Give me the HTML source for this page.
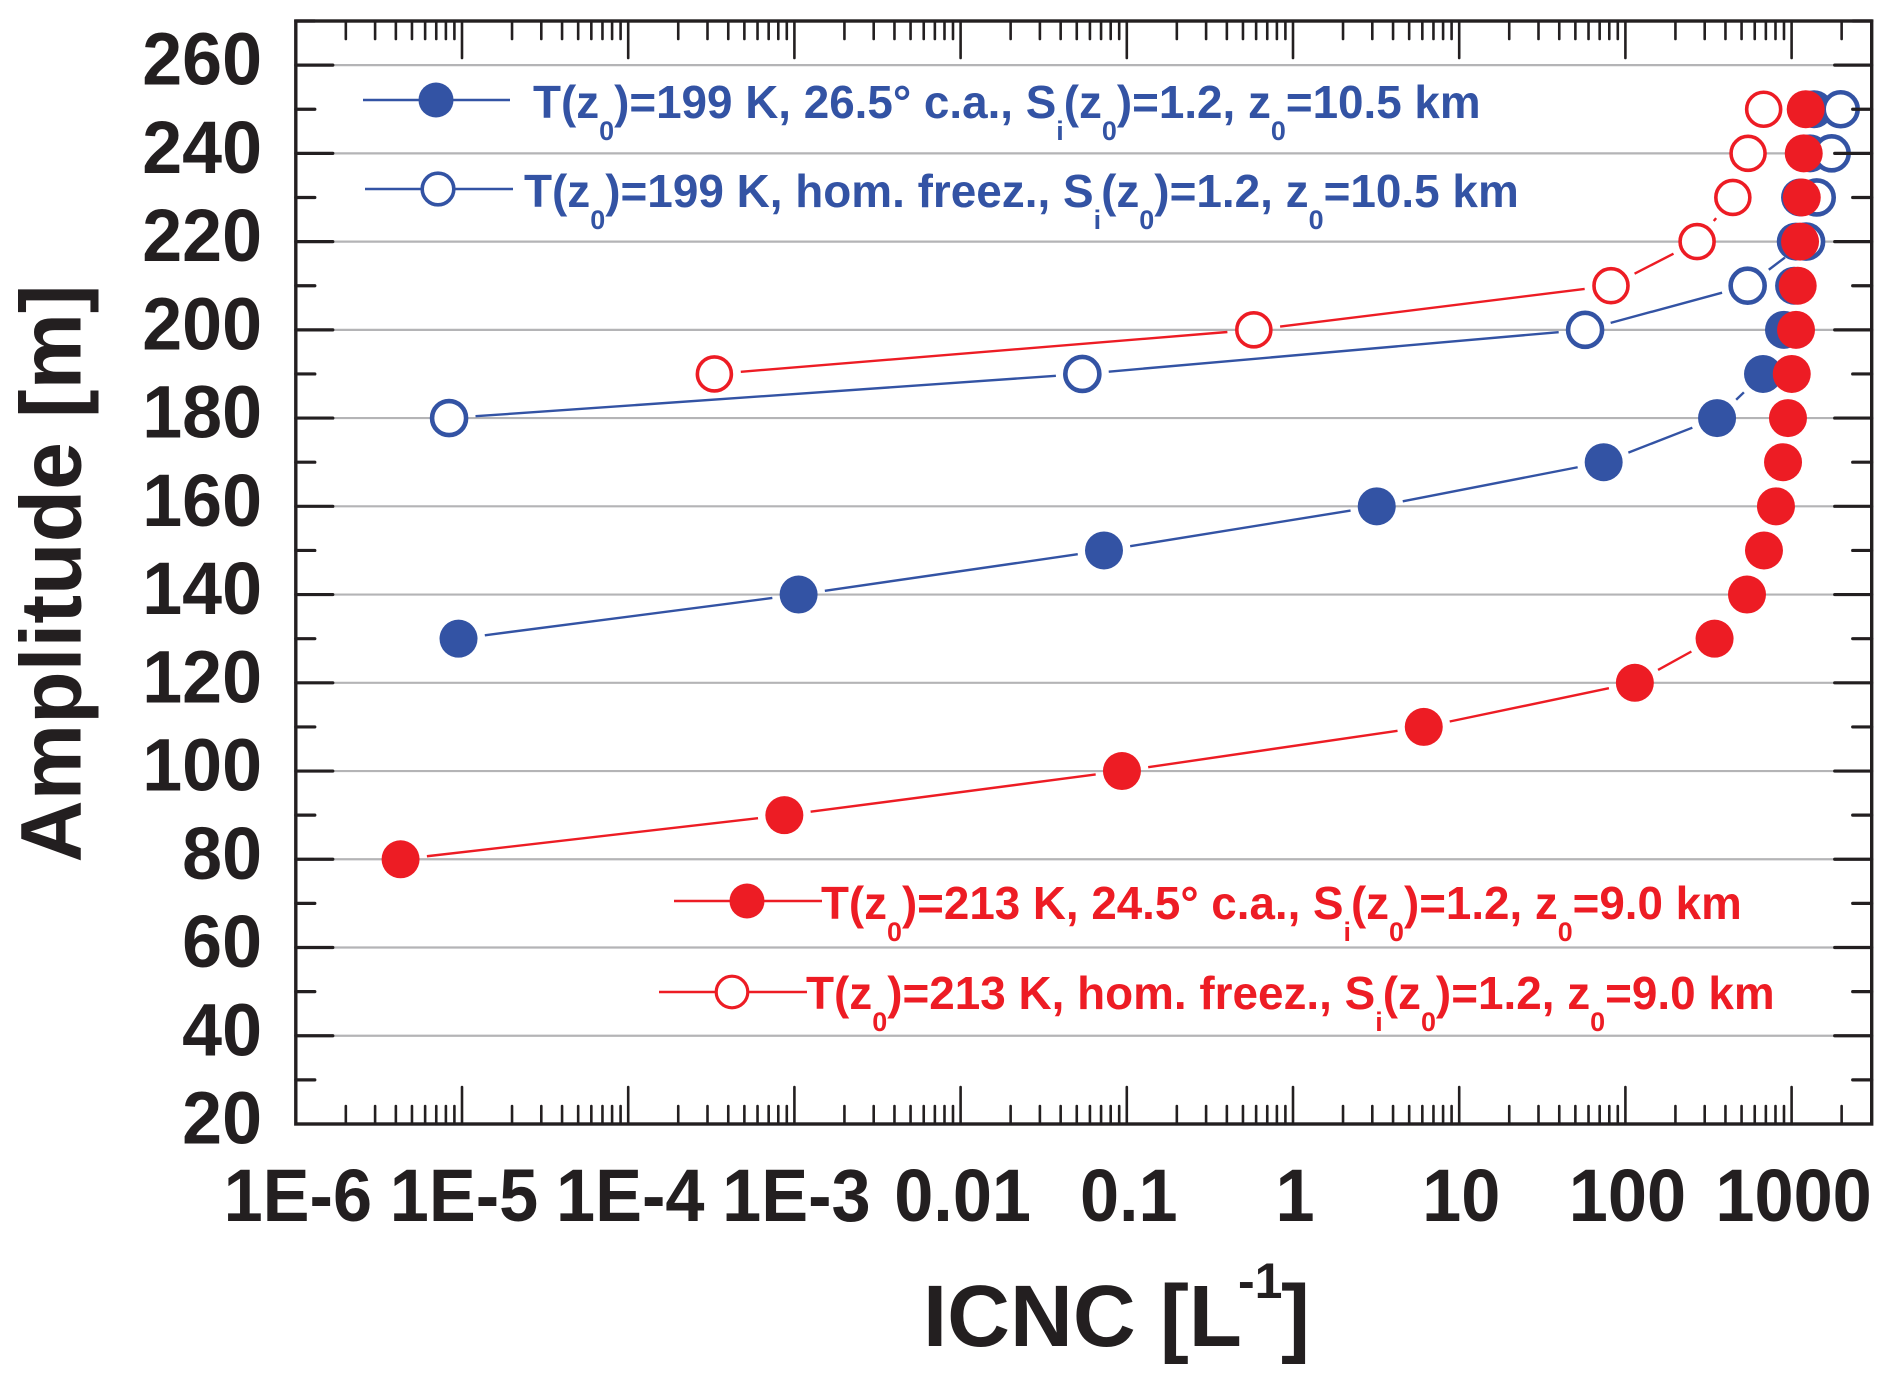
<!DOCTYPE html>
<html lang="en">
<head>
<meta charset="utf-8">
<title>ICNC vs Amplitude</title>
<style>
html,body{margin:0;padding:0;background:#fff;}
svg{display:block;}
text{font-family:"Liberation Sans",sans-serif;font-weight:bold;}
.blue{fill:#3353a4;}
.red{fill:#ed1c24;}
.dark{fill:#231f20;}
</style>
</head>
<body>
<svg id="chart" xmlns="http://www.w3.org/2000/svg" width="1892" height="1383" viewBox="0 0 1892 1383">
  <rect x="0" y="0" width="1892" height="1383" fill="#ffffff"/>
  <g id="grid"></g>
  <g id="series"></g>
  <g id="axes"></g>
  <g id="labels"></g>

  <text class="dark" transform="translate(80.5,862.5) rotate(-90)" font-size="86">Amplitude [m]</text>
  <g>
    <text class="dark" x="923" y="1346" font-size="87">ICNC [L</text>
    <text class="dark" x="1238" y="1298" font-size="50">-1</text>
    <text class="dark" x="1281" y="1346" font-size="87">]</text>
  </g>

  <g>
    <g>
      <line x1="363" y1="100" x2="510" y2="100" stroke="#3353a4" stroke-width="2.4"/>
      <circle cx="436" cy="100" r="17.5" fill="#3353a4"/>
      <text class="blue legend-text" font-size="46" data-x="533" data-y="118" data-w="948">T(z<tspan font-size="27" dy="22">0</tspan><tspan dy="-22">)=199 K, 26.5° c.a., S</tspan><tspan font-size="27" dy="22">i</tspan><tspan dy="-22">(z</tspan><tspan font-size="27" dy="22">0</tspan><tspan dy="-22">)=1.2, z</tspan><tspan font-size="27" dy="22">0</tspan><tspan dy="-22">=10.5 km</tspan></text>
    </g>
    <g>
      <line x1="365" y1="189" x2="513" y2="189" stroke="#3353a4" stroke-width="2.4"/>
      <circle cx="438" cy="189" r="15.8" fill="#ffffff" stroke="#3353a4" stroke-width="3.6"/>
      <text class="blue legend-text" font-size="46" data-x="524" data-y="207" data-w="995">T(z<tspan font-size="27" dy="22">0</tspan><tspan dy="-22">)=199 K, hom. freez., S</tspan><tspan font-size="27" dy="22">i</tspan><tspan dy="-22">(z</tspan><tspan font-size="27" dy="22">0</tspan><tspan dy="-22">)=1.2, z</tspan><tspan font-size="27" dy="22">0</tspan><tspan dy="-22">=10.5 km</tspan></text>
    </g>
    <g>
      <line x1="674" y1="901" x2="822" y2="901" stroke="#ed1c24" stroke-width="2.4"/>
      <circle cx="747" cy="901" r="17.5" fill="#ed1c24"/>
      <text class="red legend-text" font-size="46" data-x="821" data-y="919" data-w="921">T(z<tspan font-size="27" dy="22">0</tspan><tspan dy="-22">)=213 K, 24.5° c.a., S</tspan><tspan font-size="27" dy="22">i</tspan><tspan dy="-22">(z</tspan><tspan font-size="27" dy="22">0</tspan><tspan dy="-22">)=1.2, z</tspan><tspan font-size="27" dy="22">0</tspan><tspan dy="-22">=9.0 km</tspan></text>
    </g>
    <g>
      <line x1="659" y1="992" x2="807" y2="992" stroke="#ed1c24" stroke-width="2.4"/>
      <circle cx="732" cy="992" r="15.8" fill="#ffffff" stroke="#ed1c24" stroke-width="3.2"/>
      <text class="red legend-text" font-size="46" data-x="806" data-y="1009" data-w="969">T(z<tspan font-size="27" dy="22">0</tspan><tspan dy="-22">)=213 K, hom. freez., S</tspan><tspan font-size="27" dy="22">i</tspan><tspan dy="-22">(z</tspan><tspan font-size="27" dy="22">0</tspan><tspan dy="-22">)=1.2, z</tspan><tspan font-size="27" dy="22">0</tspan><tspan dy="-22">=9.0 km</tspan></text>
    </g>
  </g>
</svg>
<script>
// ---- chart data ----
const yTickValues = [20,40,60,80,100,120,140,160,180,200,220,240,260];
const yTickLabels = ['20','40','60','80','100','120','140','160','180','200','220','240','260'];
const yGridValues = [40,60,80,100,120,140,160,180,200,220,240,260];
const xTickValues = [1e-6,1e-5,1e-4,1e-3,0.01,0.1,1,10,100,1000];
const xTickLabels = ['1E-6','1E-5','1E-4','1E-3','0.01','0.1','1','10','100','1000'];

const amplitudeBlueFilled = [130,140,150,160,170,180,190,200,210,220,230,240,250];
const icncBlueFilled = [9.53e-6,1.06e-3,0.0729,3.19,74,356,673,900,1035,1059,1124,1291,1365];

const amplitudeBlueOpen = [180,190,200,210,220,230,240,250];
const icncBlueOpen = [8.36e-6,0.054,57.2,544,1222,1416,1742,1974];

const amplitudeRedOpen = [190,200,210,220,230,240,250];
const icncRedOpen = [3.30e-4,0.581,81.9,270,443,547,679];

const amplitudeRedFilled = [80,90,100,110,120,130,140,150,160,170,180,190,200,210,220,230,240,250];
const icncRedFilled = [4.27e-6,8.7e-4,0.0935,6.12,114,344,539,682,805,888,951,1002,1063,1088,1124,1151,1183,1216];

// ---- axis functions ----
const plotLeft = 295.8, plotRight = 1871.7, plotTop = 21, plotBottom = 1124;
const xPerDecade = 166.2, yPerUnit = 4.412;
function xScale(v){ return plotLeft + (Math.log10(v) + 6) * xPerDecade; }
function yScale(v){ return plotBottom - (v - 20) * yPerUnit; }

const NS = 'http://www.w3.org/2000/svg';
const gridG = document.getElementById('grid');
const seriesG = document.getElementById('series');
const axesG = document.getElementById('axes');
const labelsG = document.getElementById('labels');
const inkColor = '#231f20';

function drawLine(parent, el, x1, y1, x2, y2, color, width, cap){
  el.setAttribute('x1', x1); el.setAttribute('y1', y1);
  el.setAttribute('x2', x2); el.setAttribute('y2', y2);
  el.setAttribute('stroke', color); el.setAttribute('stroke-width', width);
  if (cap) el.setAttribute('stroke-linecap', cap);
  parent.appendChild(el);
}

// gridlines
yGridValues.forEach(function(v){
  const el = document.createElementNS(NS, 'line');
  
  
  drawLine(gridG, el, plotLeft, yScale(v), plotRight, yScale(v), '#b4b4b6', 2.2);
});

// series
function drawSeries(xs, ys, color, label){
  const gap = 26.5;
  for (let i = 0; i + 1 < xs.length; i++){
    const ax = xScale(xs[i]), ay = yScale(ys[i]), bx = xScale(xs[i+1]), by = yScale(ys[i+1]);
    const d = Math.hypot(bx-ax, by-ay);
    if (d <= 2*gap + 3) continue;
    const ux = (bx-ax)/d, uy = (by-ay)/d;
    const seg = document.createElementNS(NS, 'line');
    
    
    drawLine(seriesG, seg, ax+ux*gap, ay+uy*gap, bx-ux*gap, by-uy*gap, color, 2.4);
  }
}
function drawMarkers(xs, ys, color, open, label){
  xs.forEach(function(x, i){
    const c = document.createElementNS(NS, 'circle');
    
    
    c.setAttribute('cx', xScale(x));
    c.setAttribute('cy', yScale(ys[i]));
    if (open){
      c.setAttribute('r', 17);
      c.setAttribute('fill', '#ffffff');
      c.setAttribute('stroke', color);
      c.setAttribute('stroke-width', label.indexOf('blue') === 0 ? 4.6 : 3.6);
    } else {
      c.setAttribute('r', 19);
      c.setAttribute('fill', color);
    }
    seriesG.appendChild(c);
  });
}
const blue = '#3353a4', red = '#ed1c24';
drawSeries(icncBlueFilled, amplitudeBlueFilled, blue, 'blue-filled');
drawSeries(icncBlueOpen, amplitudeBlueOpen, blue, 'blue-open');
drawSeries(icncRedOpen, amplitudeRedOpen, red, 'red-open');
drawSeries(icncRedFilled, amplitudeRedFilled, red, 'red-filled');
drawMarkers(icncBlueFilled, amplitudeBlueFilled, blue, false, 'blue-filled');
drawMarkers(icncBlueOpen, amplitudeBlueOpen, blue, true, 'blue-open');
drawMarkers(icncRedOpen, amplitudeRedOpen, red, true, 'red-open');
drawMarkers(icncRedFilled, amplitudeRedFilled, red, false, 'red-filled');

// frame
const frame = document.createElementNS(NS, 'rect');


frame.setAttribute('x', plotLeft);
frame.setAttribute('y', plotTop);
frame.setAttribute('width', plotRight - plotLeft);
frame.setAttribute('height', plotBottom - plotTop);
frame.setAttribute('fill', 'none');
frame.setAttribute('stroke', inkColor);
frame.setAttribute('stroke-width', 3.4);
axesG.appendChild(frame);

// y ticks (major every 20, minor between), both sides
yTickValues.forEach(function(v){
  if (v !== 20){
    const t1 = document.createElementNS(NS, 'line');
    
    
    drawLine(axesG, t1, plotLeft, yScale(v), plotLeft + 37, yScale(v), inkColor, 3.2, 'round');
    const t2 = document.createElementNS(NS, 'line');
    
    
    drawLine(axesG, t2, plotRight, yScale(v), plotRight - 37, yScale(v), inkColor, 3.2, 'round');
  }
  const m = v + 10;
  const m1 = document.createElementNS(NS, 'line');
  
  
  drawLine(axesG, m1, plotLeft, yScale(m), plotLeft + 19, yScale(m), inkColor, 3.2, 'round');
  const m2 = document.createElementNS(NS, 'line');
  
  
  drawLine(axesG, m2, plotRight, yScale(m), plotRight - 19, yScale(m), inkColor, 3.2, 'round');

  const lab = document.createElementNS(NS, 'text');
  
  
  lab.setAttribute('transform', 'translate(262,' + (yScale(v) + 19.5) + ') scale(0.97,1)');
  lab.setAttribute('text-anchor', 'end');
  lab.setAttribute('font-size', 74);
  lab.setAttribute('class', 'dark');
  lab.textContent = yTickLabels[yTickValues.indexOf(v)];
  labelsG.appendChild(lab);
});

// x ticks (log), both sides
xTickValues.forEach(function(v, i){
  const px = xScale(v);
  if (i > 0){
    const t1 = document.createElementNS(NS, 'line');
    
    
    drawLine(axesG, t1, px, plotBottom, px, plotBottom - 37, inkColor, 2.6, 'round');
    const t2 = document.createElementNS(NS, 'line');
    
    
    drawLine(axesG, t2, px, plotTop, px, plotTop + 37, inkColor, 2.6, 'round');
  }
  for (let k = 2; k <= 9; k++){
    const mv = v * k;
    if (xScale(mv) >= plotRight - 4) continue;
    const m1 = document.createElementNS(NS, 'line');
    
    
    drawLine(axesG, m1, xScale(mv), plotBottom, xScale(mv), plotBottom - 18, inkColor, 2.6, 'round');
    const m2 = document.createElementNS(NS, 'line');
    
    
    drawLine(axesG, m2, xScale(mv), plotTop, xScale(mv), plotTop + 18, inkColor, 2.6, 'round');
  }
  const lab = document.createElementNS(NS, 'text');
  
  
  lab.setAttribute('transform', 'translate(' + (px + 2) + ',1221) scale(0.95,1)');
  lab.setAttribute('text-anchor', 'middle');
  lab.setAttribute('font-size', 74);
  lab.setAttribute('class', 'dark');
  lab.textContent = xTickLabels[i];
  labelsG.appendChild(lab);
});

// fit condensed legend text to measured widths
document.querySelectorAll('.legend-text').forEach(function(t){
  const len = t.getComputedTextLength();
  const sx = parseFloat(t.getAttribute('data-w')) / len;
  t.setAttribute('transform', 'translate(' + t.getAttribute('data-x') + ',' + t.getAttribute('data-y') + ') scale(' + sx + ',1)');
});
</script>
</body>
</html>
